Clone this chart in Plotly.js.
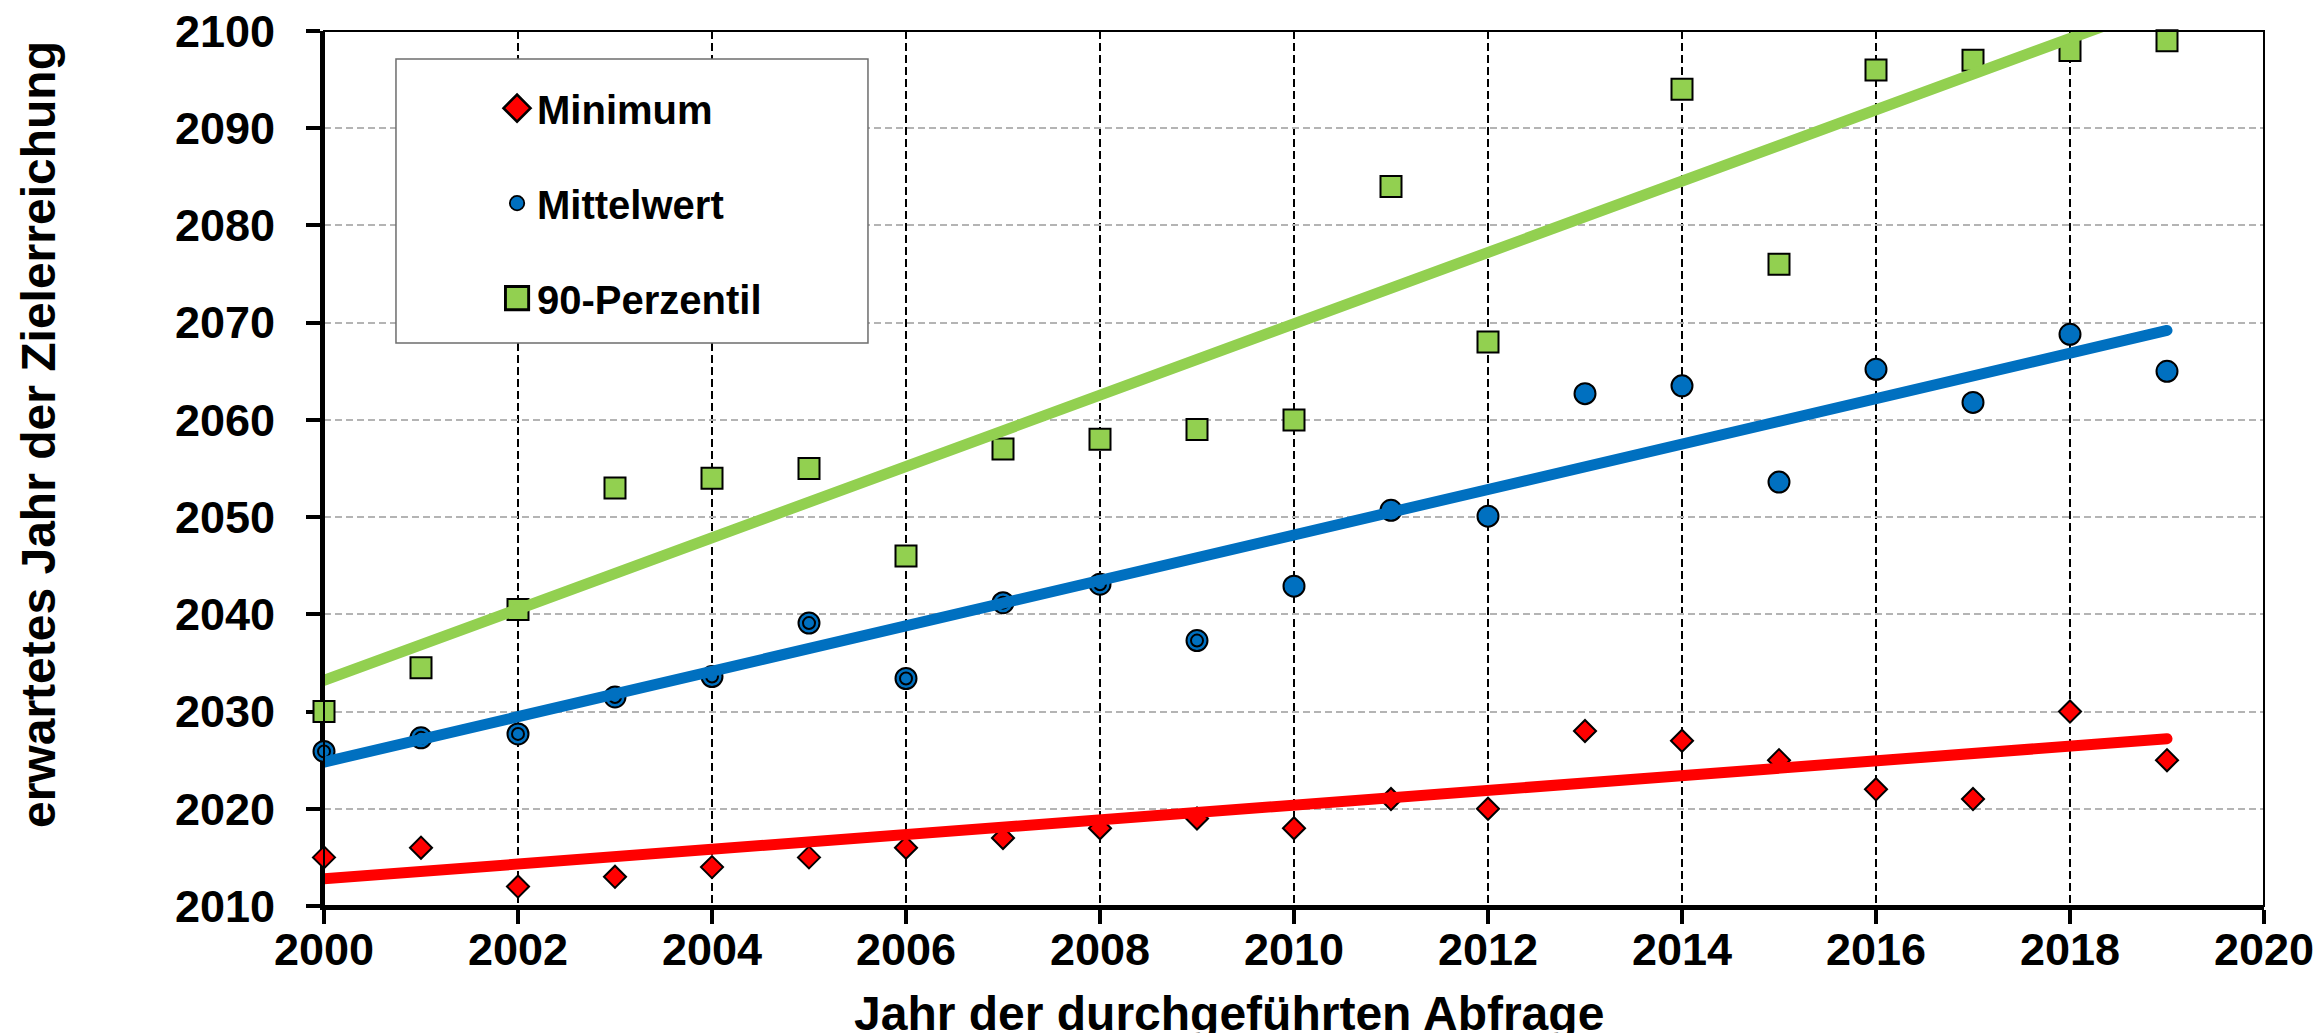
<!DOCTYPE html>
<html>
<head>
<meta charset="utf-8">
<script src="https://cdn.plot.ly/plotly-3.0.1.min.js"></script>
<style>html,body{margin:0;padding:0;background:#fff;}#chart{width:2323px;height:1033px;}</style>
</head>
<body>
<div id="chart"></div>
<script>
// ---- data ----
const years = [2000,2001,2002,2003,2004,2005,2006,2007,2008,2009,2010,2011,2012,2013,2014,2015,2016,2017,2018,2019];
const minimum = [2015,2016,2012,2013,2014,2015,2016,2017,2018,2019,2018,2021,2020,2028,2027,2025,2022,2021,2030,2025];
const mittelwert = [2025.9,2027.3,2027.7,2031.5,2033.6,2039.1,2033.4,2041.2,2043.1,2037.3,2042.9,2050.7,2050.1,2062.7,2063.5,2053.6,2065.2,2061.8,2068.8,2065.0];
const perzentil90 = [2030,2034.5,2040.5,2053,2054,2055,2046,2057,2058,2059,2060,2084,2068,null,2094,2076,2096,2097,2098,2099];
// linear trend lines (Excel trendlines), end values
const trendYears = [2000, 2019];
const trendMinimum = [2012.8, 2027.2];
const trendMittelwert = [2024.8, 2069.2];
const trendPerzentil90 = [2033.2, 2102.9];
const xTicks = [2000,2002,2004,2006,2008,2010,2012,2014,2016,2018,2020];
const yTicks = [2010,2020,2030,2040,2050,2060,2070,2080,2090,2100];
const seriesNames = ['Minimum','Mittelwert','90-Perzentil'];
const xTitle = 'Jahr der durchgeführten Abfrage';
const yTitle = 'erwartetes Jahr der Zielerreichung';

const RED = '#ff0000', BLUE = '#0070c0', GREEN = '#92d050';
const FONT = 'Liberation Sans, Arial, Helvetica, sans-serif';

const traces = [
  {type:'scatter', mode:'markers', name:seriesNames[0], x:years, y:minimum, legendgroup:'a', cliponaxis:false,
   marker:{symbol:'diamond', size:17, color:RED, line:{color:'#000', width:2}}},
  {type:'scatter', mode:'markers', name:seriesNames[1], x:years, y:mittelwert, legendgroup:'b', cliponaxis:false,
   marker:{symbol:'circle', size:21, color:BLUE, line:{color:'#000', width:2}}},
  {type:'scatter', mode:'markers', name:seriesNames[1], x:years.slice(0,10), y:mittelwert.slice(0,10), showlegend:false, hoverinfo:'skip', cliponaxis:false,
   marker:{symbol:'circle', size:12, color:BLUE, line:{color:'#000', width:2}}},
  {type:'scatter', mode:'markers', name:seriesNames[2], x:years, y:perzentil90, legendgroup:'c', cliponaxis:false,
   marker:{symbol:'square', size:21, color:GREEN, line:{color:'#000', width:2}}},
  {type:'scatter', mode:'lines', x:trendYears, y:trendMinimum, showlegend:false, hoverinfo:'skip', line:{color:RED, width:11}},
  {type:'scatter', mode:'lines', x:trendYears, y:trendMittelwert, showlegend:false, hoverinfo:'skip', line:{color:BLUE, width:11}},
  {type:'scatter', mode:'lines', x:trendYears, y:trendPerzentil90, showlegend:false, hoverinfo:'skip', line:{color:GREEN, width:11}}
];

const layout = {
  width:2323, height:1033, autosize:false,
  margin:{l:324, r:59, t:31, b:127, pad:0},
  paper_bgcolor:'#fff', plot_bgcolor:'#fff',
  font:{family:FONT, color:'#000', weight:700},
  showlegend:true,
  legend:{x:0.0892, y:0.949, xanchor:'left', yanchor:'top', bgcolor:'rgba(0,0,0,0)', borderwidth:0,
    font:{family:FONT, size:40, color:'#000', weight:700}, tracegroupgap:40, traceorder:'grouped', itemsizing:'trace'},
  xaxis:{range:[2000,2020], tickvals:xTicks, ticktext:xTicks.map(String), showline:true, linecolor:'#000', linewidth:4,
    ticks:'outside', ticklen:14, tickwidth:4, tickcolor:'#000', ticklabelstandoff:-13,
    tickfont:{family:FONT, size:45, color:'#000', weight:700},
    showgrid:true, gridcolor:'#000', gridwidth:2.5, griddash:'8px,4px', zeroline:false, layer:'below traces', fixedrange:true},
  yaxis:{range:[2010,2100], tickvals:yTicks, ticktext:yTicks.map(String), showline:true, linecolor:'#000', linewidth:4,
    ticks:'outside', ticklen:14, tickwidth:4, tickcolor:'#000', ticklabelstandoff:22,
    tickfont:{family:FONT, size:45, color:'#000', weight:700},
    showgrid:true, gridcolor:'#b4b4b4', gridwidth:2, griddash:'7px,4px', zeroline:false, layer:'below traces', fixedrange:true},
  shapes:[
    {type:'rect', xref:'paper', yref:'paper', x0:0, x1:1, y0:0, y1:1, line:{color:'#000', width:2}, fillcolor:'rgba(0,0,0,0)', layer:'above'},
    {type:'rect', xref:'paper', yref:'paper', x0:0.0371, x1:0.2804, y0:0.6434, y1:0.968, line:{color:'#6e6e6e', width:1.5}, fillcolor:'#ffffff', layer:'above'}
  ],
  annotations:[
    {text:yTitle, xref:'paper', yref:'paper', x:-0.1469, y:0.5383, xanchor:'center', yanchor:'middle', textangle:-90, showarrow:false,
     font:{family:FONT, size:48, color:'#000', weight:700}},
    {text:xTitle, xref:'paper', yref:'paper', x:0.4665, y:-0.0903, xanchor:'center', yanchor:'top', showarrow:false,
     font:{family:FONT, size:48, color:'#000', weight:700}}
  ]
};

// legend symbol scale factors so they match the reference legend
const legendSymbolScale = [1.3, 0.9, 1.45];

function resizeLegendSymbols(){
  const pts = document.querySelectorAll('.legendpoints path');
  pts.forEach(function(p, i){
    if(p.getAttribute('data-scaled')) return;
    const s = legendSymbolScale[i];
    if(!s) return;
    const tr = p.getAttribute('transform') || '';
    p.setAttribute('transform', tr + ' scale(' + s + ')');
    p.setAttribute('data-scaled', '1');
  });
}

Plotly.newPlot('chart', traces, layout, {displayModeBar:false, staticPlot:true}).then(function(gd){
  document.querySelectorAll('.scatterlayer .js-line').forEach(function(p){ p.style.strokeLinecap = 'round'; });
  resizeLegendSymbols();
});
</script>
</body>
</html>
